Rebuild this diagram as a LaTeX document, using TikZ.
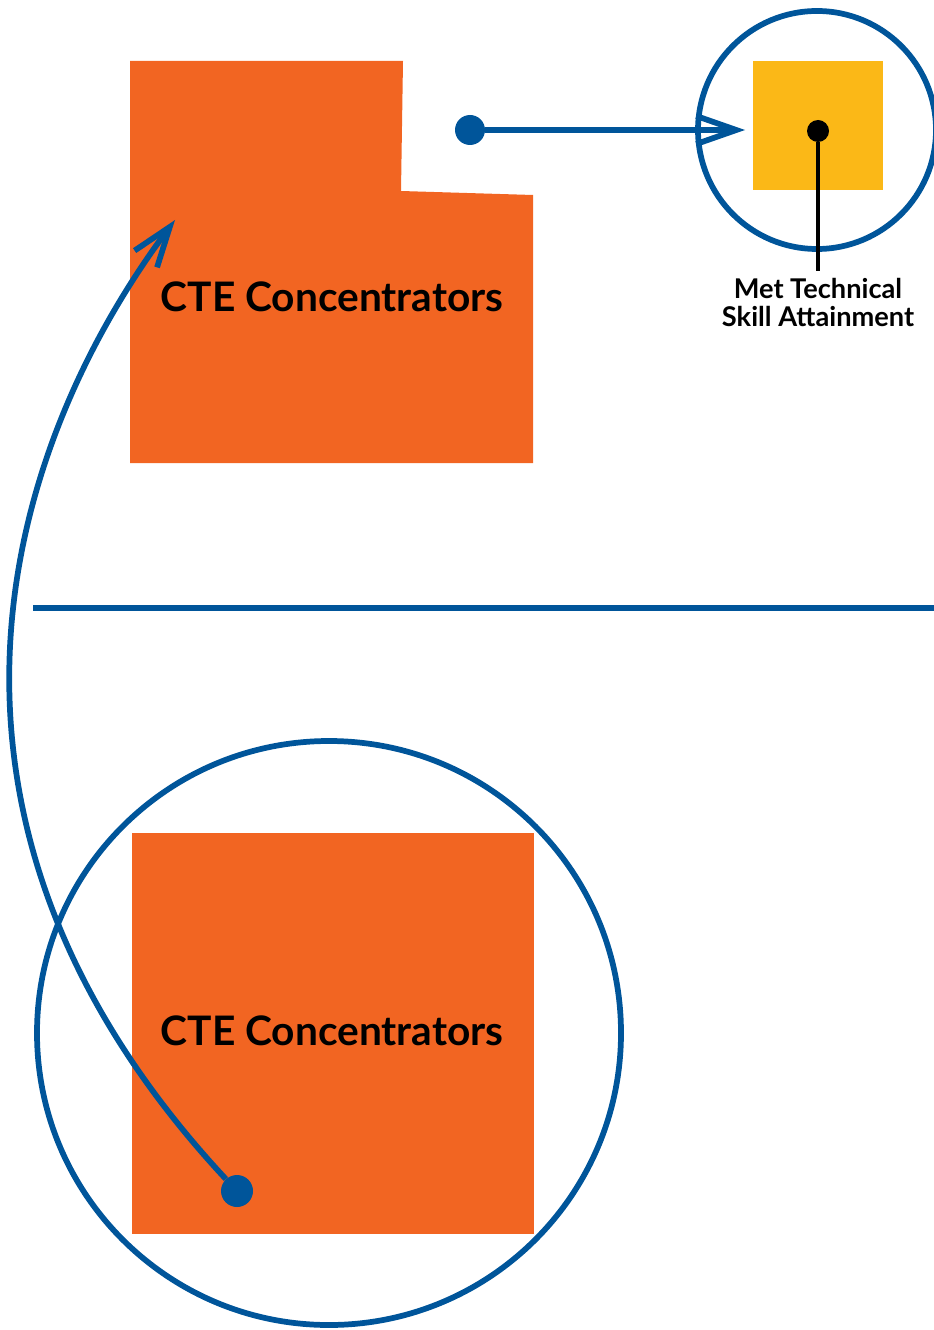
\documentclass[tikz,border=0pt]{standalone}
\usepackage{fontspec}
\setmainfont{Lato}
\usetikzlibrary{arrows.meta}
\definecolor{cteorange}{HTML}{F26522}
\definecolor{cteblue}{HTML}{00559A}
\definecolor{cteyellow}{HTML}{FBB817}
\tikzset{
  bluedot/.style={circle,fill=cteblue,inner sep=0pt,minimum size=22.5pt},
  ring/.style={circle,draw=cteblue,line width=4.3pt,inner sep=0pt},
  link/.style={cteblue,line width=4.3pt,-{Straight Barb[length=30pt,width=21pt]}},
  boxlabel/.style={font=\bfseries\fontsize{30.5}{34}\selectfont},
}
\begin{document}
\begin{tikzpicture}[x=0.75pt,y=-0.75pt]
    \useasboundingbox (0,0) rectangle (934,1330);

    % top: concentrators with a part cut away
    \fill[cteorange] (130,61) -- (403,61) -- (401,191) -- (533,195) -- (533,463) -- (130,463) -- cycle;
    \node[boxlabel] (topcte) at (332,297) {CTE Concentrators};

    \node[ring,minimum size=178.5pt] (topring) at (817,130) {};
    \fill[cteyellow] (753,61) rectangle (883,190);
    \node[circle,fill=black,inner sep=0pt,minimum size=16.5pt] (skilldot) at (818,131) {};
    \coordinate (skillend) at (818,271);
    \draw[line width=3.2pt] (skilldot) -- (skillend);
    \node[font=\bfseries\fontsize{20.4}{21}\selectfont,align=center,anchor=north] (skill) at (818,274)
        {Met Technical\\Skill Attainment};

    \node[bluedot] (dotA) at (470,130) {};
    \coordinate (tipA) at (745,130);
    \draw[link] (dotA) -- (tipA);

    % divider
    \coordinate (divL) at (33,608);
    \coordinate (divR) at (934,608);
    \draw[cteblue,line width=4.3pt] (divL) -- (divR);

    % bottom: all concentrators
    \fill[cteorange] (132,833) rectangle (534,1234);
    \node[boxlabel] (botcte) at (332,1031) {CTE Concentrators};
    \node[ring,minimum size=438pt] (botring) at (329,1033) {};

    \node[bluedot,minimum size=24pt] (dotB) at (237,1191) {};
    \coordinate (tipB) at (175,220);
    \draw[link] (dotB) .. controls (-111,817) and (6,446) .. (tipB);
\end{tikzpicture}
\end{document}
